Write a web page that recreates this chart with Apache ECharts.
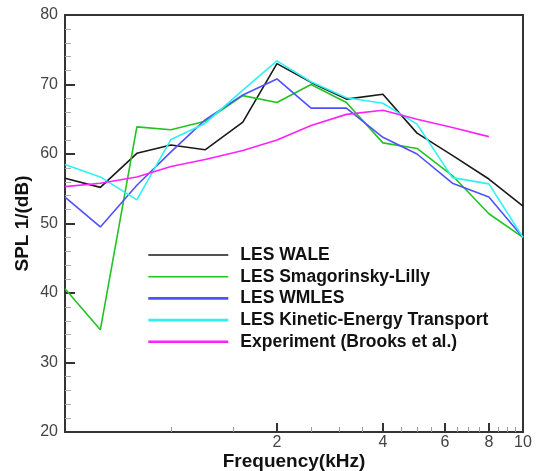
<!DOCTYPE html>
<html>
<head>
<meta charset="utf-8">
<script src="https://cdn.jsdelivr.net/npm/echarts@6/dist/echarts.min.js"></script>
<style>
  html, body { margin: 0; padding: 0; background: #fff; }
  #chart { width: 538px; height: 471px; }
</style>
</head>
<body>
<div id="chart"></div>
<script>
// One-third octave band centre frequencies (kHz)
const freqs = [0.5, 0.63, 0.8, 1.0, 1.25, 1.6, 2.0, 2.5, 3.15, 4.0, 5.0, 6.3, 8.0, 10.0];

// SPL (dB) per band
const wale      = [56.5, 55.2, 60.1, 61.3, 60.6, 64.6, 73.0, 70.3, 67.9, 68.6, 63.0, 59.8, 56.4, 52.5];
const smagorinsky = [40.6, 34.7, 63.9, 63.5, 64.7, 68.4, 67.4, 70.0, 67.4, 61.6, 60.8, 56.9, 51.4, 48.0];
const wmles     = [53.8, 49.5, 55.5, 60.3, 64.9, 68.5, 70.8, 66.6, 66.6, 62.4, 60.0, 55.8, 53.8, 48.0];
const ket       = [58.5, 56.7, 53.4, 62.1, 64.4, 69.2, 73.4, 70.4, 68.1, 67.3, 64.3, 56.6, 55.7, 48.0];
const experimentFreqs = [0.5, 0.63, 0.8, 1.0, 1.25, 1.6, 2.0, 2.5, 3.15, 4.0, 5.0, 6.3, 8.0];
const experiment = [55.3, 55.8, 56.7, 58.2, 59.2, 60.5, 62.0, 64.1, 65.7, 66.3, 65.0, 63.8, 62.5];

// Axis ticks
const xLabelTicks = [2, 4, 6, 8, 10];
const xMinorTicks = [1, 1.5, 2.5, 3, 3.5, 4.5, 5, 5.5, 6.5, 7, 7.5, 8.5, 9, 9.5];

const seriesNames = [
  'LES WALE',
  'LES Smagorinsky-Lilly',
  'LES WMLES',
  'LES Kinetic-Energy Transport',
  'Experiment (Brooks et al.)'
];
const seriesColors = ['#1a1a1a', '#22c322', '#5050ff', '#2ef2f2', '#ff22ff'];
const legendWidths = [1.5, 1.5, 2.6, 2.6, 2.6];
const seriesValues = [wale, smagorinsky, wmles, ket, experiment];
const seriesFreqs = [freqs, freqs, freqs, freqs, experimentFreqs];

const pair = (xs, ys) => ys.map((v, i) => [xs[i], v]);

const font = '"Liberation Sans", Arial, sans-serif';

const chart = echarts.init(document.getElementById('chart'), null, { renderer: 'canvas' });

chart.setOption({
  animation: false,
  backgroundColor: '#fff',
  grid: {
    left: 65, top: 15, right: 15, bottom: 39,
    outerBoundsMode: 'none', containLabel: false,
    show: true, borderColor: '#333', borderWidth: 2, backgroundColor: 'transparent'
  },
  legend: {
    orient: 'vertical',
    left: 142, top: 241,
    itemWidth: 80, itemHeight: 14, itemGap: 3.7,
    itemStyle: { opacity: 0 },
    data: seriesNames.map((n, k) => ({
      name: n,
      lineStyle: { color: seriesColors[k], width: legendWidths[k] }
    })),
    textStyle: { fontFamily: font, fontWeight: 'bold', fontSize: 17.5, lineHeight: 18,
                 color: '#111', padding: [0, 0, 0, 7] }
  },
  xAxis: [
    {
      type: 'log', logBase: 10, min: 0.5, max: 10,
      name: 'Frequency(kHz)', nameLocation: 'middle', nameGap: 20, nameMoveOverlap: false,
      nameTextStyle: { fontFamily: font, fontWeight: 'bold', fontSize: 19, color: '#111' },
      axisLine: { show: true, lineStyle: { color: '#333', width: 2 } },
      axisTick: { show: true, inside: true, length: 9, customValues: xLabelTicks,
                  lineStyle: { color: '#333', width: 2 } },
      axisLabel: { show: true, customValues: xLabelTicks, margin: 3,
                   fontFamily: font, fontSize: 16, color: '#444' },
      splitLine: { show: false },
      minorTick: { show: false }
    },
    {
      type: 'log', logBase: 10, min: 0.5, max: 10, position: 'bottom',
      axisLine: { show: false },
      axisTick: { show: true, inside: true, length: 5, customValues: xMinorTicks,
                  lineStyle: { color: '#999', width: 1 } },
      axisLabel: { show: false },
      splitLine: { show: false }
    }
  ],
  yAxis: {
    type: 'value', min: 20, max: 80, interval: 10,
    name: 'SPL 1/(dB)', nameLocation: 'middle', nameGap: 33, nameMoveOverlap: false,
    nameTextStyle: { fontFamily: font, fontWeight: 'bold', fontSize: 19, color: '#111' },
    axisLine: { show: true, lineStyle: { color: '#333', width: 2 } },
    axisTick: { show: true, inside: true, length: 10, lineStyle: { color: '#333', width: 2 } },
    minorTick: { show: true, splitNumber: 5, length: 6, lineStyle: { color: '#aaa', width: 1 } },
    axisLabel: { margin: 7, fontFamily: font, fontSize: 16, color: '#444' },
    splitLine: { show: false }
  },
  series: seriesNames.map((name, k) => ({
    name: name,
    type: 'line',
    xAxisIndex: 0,
    data: pair(seriesFreqs[k], seriesValues[k]),
    symbol: 'none',
    color: seriesColors[k],
    lineStyle: { color: seriesColors[k], width: 1.6 },
    z: 2 + k
  }))
});
</script>
</body>
</html>
